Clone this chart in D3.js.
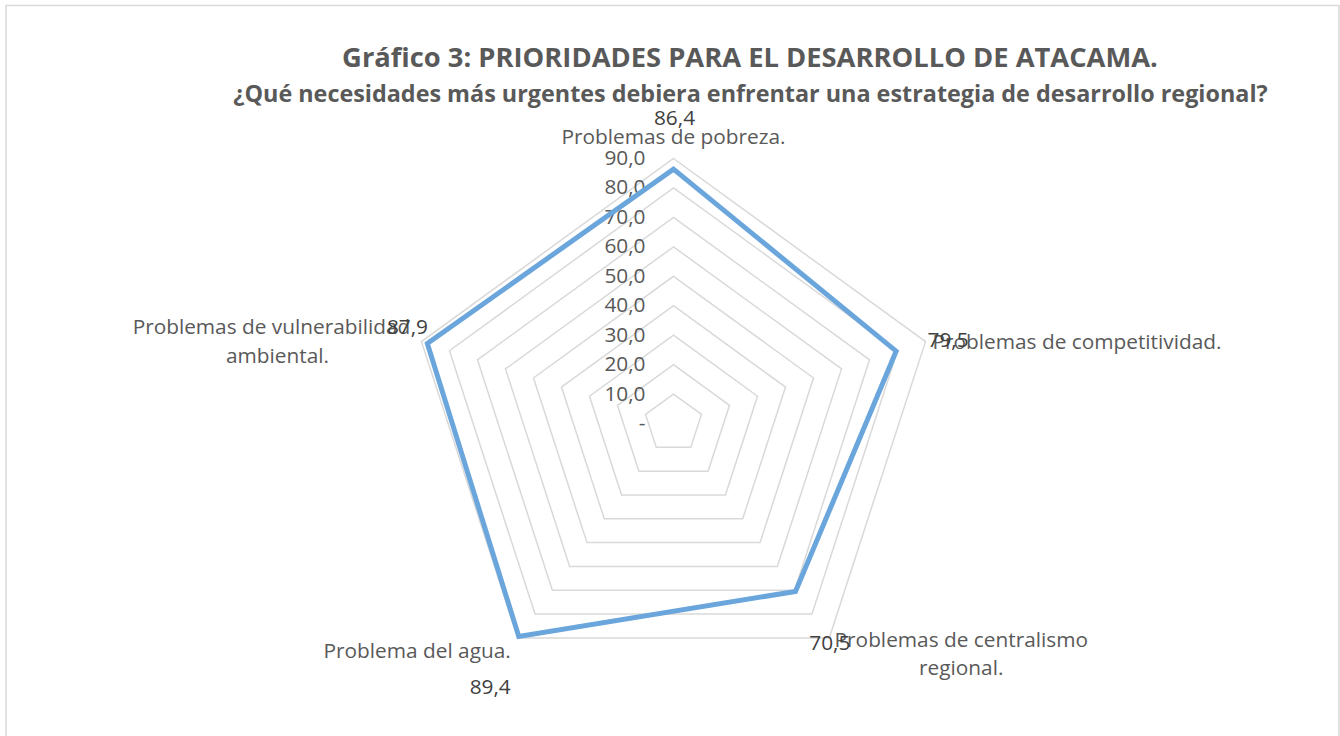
<!DOCTYPE html>
<html><head><meta charset="utf-8">
<script src="https://cdn.jsdelivr.net/npm/d3@7"></script>
<style>
body{margin:0;background:#fff;}
svg{display:block;font-family:"Open Sans",Lato,sans-serif;}
</style></head>
<body><svg id="c" width="1340" height="736"></svg>
<script>
const categories = ["Problemas de pobreza.", "Problemas de competitividad.", "Problemas de centralismo regional.", "Problema del agua.", "Problemas de vulnerabilidad ambiental."];
const values = [86.4, 79.5, 70.5, 89.4, 87.9];
const valueLabels = ["86,4", "79,5", "70,5", "89,4", "87,9"];
const ticks = [0, 10, 20, 30, 40, 50, 60, 70, 80, 90];
const tickLabels = ["-", "10,0", "20,0", "30,0", "40,0", "50,0", "60,0", "70,0", "80,0", "90,0"];
const title = "Gráfico 3: PRIORIDADES PARA EL DESARROLLO DE ATACAMA.";
const subtitle = "¿Qué necesidades más urgentes debiera enfrentar una estrategia de desarrollo regional?";

const svg = d3.select("#c");
const cx = 673.5, cy = 423.5;
const r = d3.scaleLinear().domain([0, 90]).range([0, 265]);
const n = categories.length;
const ang = i => -Math.PI / 2 + i * 2 * Math.PI / n;
const pt = (i, v) => [cx + r(v) * Math.cos(ang(i)), cy + r(v) * Math.sin(ang(i))];

// helper: font size giving a target width
function fitSize(str, target, weight) {
  const t = svg.append("text").attr("font-size", 20).attr("font-weight", weight || "normal").text(str);
  const w = t.node().getComputedTextLength();
  t.remove();
  return 20 * target / w;
}

// border
svg.append("rect").attr("x", 6).attr("y", 5.5).attr("width", 1333).attr("height", 740)
  .attr("fill", "none").attr("stroke", "#d9d9d9").attr("stroke-width", 1.5);

// title
svg.append("text").attr("x", 750).attr("y", 67).attr("text-anchor", "middle")
  .attr("font-size", fitSize(title, 816, "bold")).attr("font-weight", "bold").attr("fill", "#595959").text(title);
svg.append("text").attr("x", 750.5).attr("y", 102).attr("text-anchor", "middle")
  .attr("font-size", fitSize(subtitle, 1035, "bold")).attr("font-weight", "bold").attr("fill", "#595959").text(subtitle);

const fs = fitSize("Problemas de competitividad.", 289);
const col = "#595959", vcol = "#404040";

// grid rings
const line = d3.line();
ticks.filter(t => t > 0).forEach(t => {
  const pts = d3.range(n).map(i => pt(i, t));
  svg.append("path").attr("d", line(pts) + "Z").attr("fill", "none")
    .attr("stroke", "#d9d9d9").attr("stroke-width", 1.5);
});

// tick labels
ticks.forEach((t, k) => {
  svg.append("text").attr("x", cx - 28).attr("y", cy - r(t) + 6.5)
    .attr("text-anchor", "end").attr("font-size", fs).attr("fill", col)
    .text(tickLabels[k]);
});

// series
const spts = values.map((v, i) => pt(i, v));
svg.append("path").attr("d", line(spts) + "Z").attr("fill", "none")
  .attr("stroke", "#6aa6db").attr("stroke-width", 5).attr("stroke-linejoin", "miter");

// category labels
const outer = i => pt(i, 90);
function txt(x, y, s, anchor, color) {
  svg.append("text").attr("x", x).attr("y", y).attr("text-anchor", anchor)
    .attr("font-size", fs).attr("fill", color || col).text(s);
}
// 0 top
let p = outer(0);
txt(p[0], p[1] - 15, categories[0], "middle");
txt(p[0] + 1, p[1] - 34, valueLabels[0], "middle", vcol);
// 1 right
p = outer(1);
txt(p[0] + 7, p[1] + 7, categories[1], "start");
txt(p[0] + 2, p[1] + 5, valueLabels[1], "start", vcol);
// 2 bottom-right
p = outer(2);
txt(p[0] + 132, p[1] + 9, "Problemas de centralismo", "middle");
txt(p[0] + 132, p[1] + 37, "regional.", "middle");
txt(p[0] - 20, p[1] + 12, valueLabels[2], "start", vcol);
// 3 bottom-left
p = outer(3);
txt(p[0] - 7, p[1] + 20, categories[3], "end");
txt(p[0] - 7, p[1] + 56, valueLabels[3], "end", vcol);
// 4 left
p = outer(4);
txt(p[0] - 150, p[1] - 8, "Problemas de vulnerabilidad", "middle");
txt(p[0] - 144, p[1] + 21, "ambiental.", "middle");
txt(p[0] - 14, p[1] - 8, valueLabels[4], "middle", vcol);
</script></body></html>
